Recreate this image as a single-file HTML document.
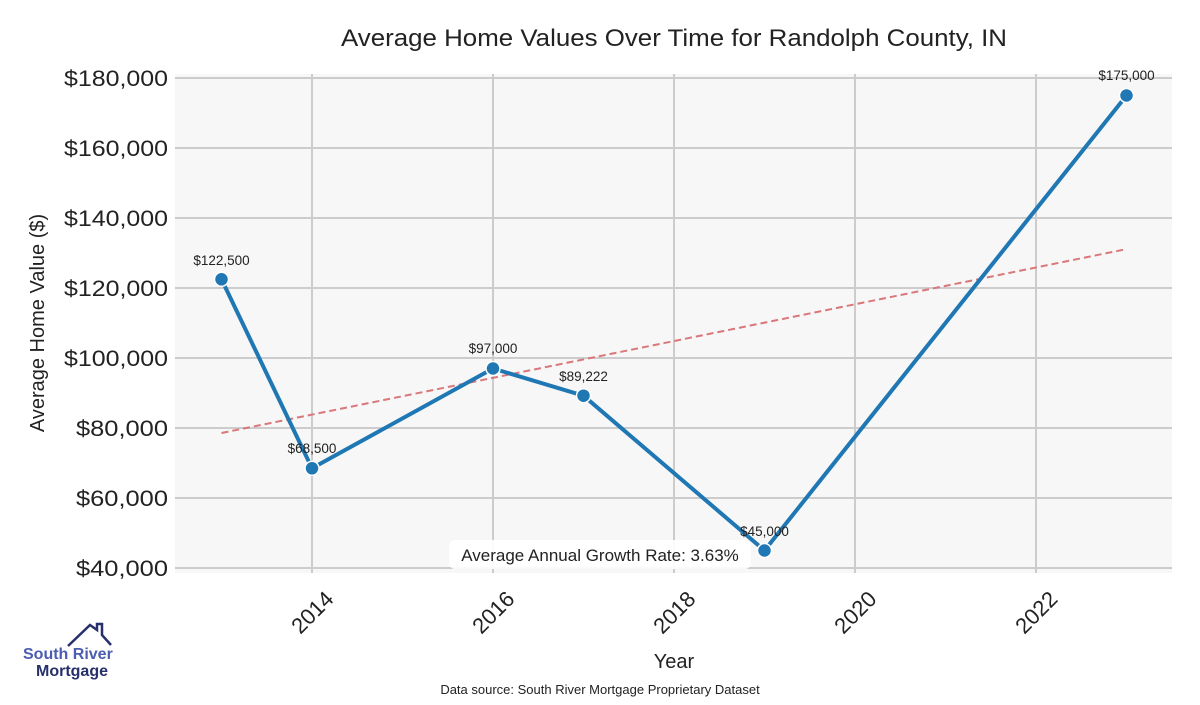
<!DOCTYPE html>
<html><head><meta charset="utf-8"><style>
body{margin:0;background:#fff;}
svg text{font-family:"Liberation Sans",sans-serif;}
</style></head><body>
<svg width="1200" height="700" xmlns="http://www.w3.org/2000/svg">
<rect x="0" y="0" width="1200" height="700" fill="#fff"/>
<rect x="175" y="74" width="997" height="499" fill="#f7f7f7"/>
<g stroke="#cccccc" stroke-width="2">
<line x1="175" y1="78" x2="1172" y2="78"/>
<line x1="175" y1="148" x2="1172" y2="148"/>
<line x1="175" y1="218" x2="1172" y2="218"/>
<line x1="175" y1="288" x2="1172" y2="288"/>
<line x1="175" y1="358" x2="1172" y2="358"/>
<line x1="175" y1="428" x2="1172" y2="428"/>
<line x1="175" y1="498" x2="1172" y2="498"/>
<line x1="175" y1="568" x2="1172" y2="568"/>
<line x1="312" y1="74" x2="312" y2="573"/>
<line x1="493" y1="74" x2="493" y2="573"/>
<line x1="674" y1="74" x2="674" y2="573"/>
<line x1="855" y1="74" x2="855" y2="573"/>
<line x1="1036" y1="74" x2="1036" y2="573"/>
</g>
<text x="674" y="46" font-size="24" text-anchor="middle" fill="#222" textLength="666" lengthAdjust="spacingAndGlyphs">Average Home Values Over Time for Randolph County, IN</text>
<g font-size="22" fill="#222" text-anchor="end">
<text x="168" y="86" textLength="104" lengthAdjust="spacingAndGlyphs">$180,000</text>
<text x="168" y="156" textLength="104" lengthAdjust="spacingAndGlyphs">$160,000</text>
<text x="168" y="226" textLength="104" lengthAdjust="spacingAndGlyphs">$140,000</text>
<text x="168" y="296" textLength="104" lengthAdjust="spacingAndGlyphs">$120,000</text>
<text x="168" y="366" textLength="104" lengthAdjust="spacingAndGlyphs">$100,000</text>
<text x="168" y="436" textLength="92" lengthAdjust="spacingAndGlyphs">$80,000</text>
<text x="168" y="506" textLength="92" lengthAdjust="spacingAndGlyphs">$60,000</text>
<text x="168" y="576" textLength="92" lengthAdjust="spacingAndGlyphs">$40,000</text>
</g>
<g font-size="22" fill="#222" text-anchor="middle">
<text transform="translate(312,612) rotate(-45)" x="0" y="8">2014</text>
<text transform="translate(493,612) rotate(-45)" x="0" y="8">2016</text>
<text transform="translate(674,612) rotate(-45)" x="0" y="8">2018</text>
<text transform="translate(855,612) rotate(-45)" x="0" y="8">2020</text>
<text transform="translate(1036,612) rotate(-45)" x="0" y="8">2022</text>
</g>
<text x="674" y="668" font-size="20" text-anchor="middle" fill="#222">Year</text>
<text transform="translate(44,323) rotate(-90)" font-size="20" text-anchor="middle" fill="#222">Average Home Value ($)</text>
<line x1="221.5" y1="433" x2="1127" y2="249" stroke="#d9777a" stroke-width="2" stroke-dasharray="7,4"/>
<polyline points="221.5,279.3 312,468.3 493,368.5 583.5,395.7 764.5,550.5 1126.5,95.5" fill="none" stroke="#1f77b4" stroke-width="4" stroke-linejoin="round"/>
<g fill="#1f77b4" stroke="#fff" stroke-width="1.5">
<circle cx="221.5" cy="279.3" r="7"/><circle cx="312" cy="468.3" r="7"/><circle cx="493" cy="368.5" r="7"/><circle cx="583.5" cy="395.7" r="7"/><circle cx="764.5" cy="550.5" r="7"/><circle cx="1126.5" cy="95.5" r="7"/>
</g>
<g font-size="13.5" fill="#222" text-anchor="middle">
<text x="221.5" y="265">$122,500</text>
<text x="312" y="453">$68,500</text>
<text x="493" y="353">$97,000</text>
<text x="583.5" y="381">$89,222</text>
<text x="764.5" y="536">$45,000</text>
<text x="1126.5" y="80">$175,000</text>
</g>
<rect x="449" y="540" width="302" height="29" rx="6" fill="#fff" opacity="0.9"/>
<text x="600" y="561" font-size="17" text-anchor="middle" fill="#222">Average Annual Growth Rate: 3.63%</text>
<text x="600" y="694" font-size="13" text-anchor="middle" fill="#222">Data source: South River Mortgage Proprietary Dataset</text>
<polyline points="68,646 90,625 97,630 97,624 102,624 102,635 111,645" fill="none" stroke="#28306b" stroke-width="2.5"/>
<text x="23" y="659" font-size="16" font-weight="bold" fill="#4a5db0">South River</text>
<text x="36" y="676" font-size="16" font-weight="bold" fill="#28306b">Mortgage</text>
</svg>
</body></html>
